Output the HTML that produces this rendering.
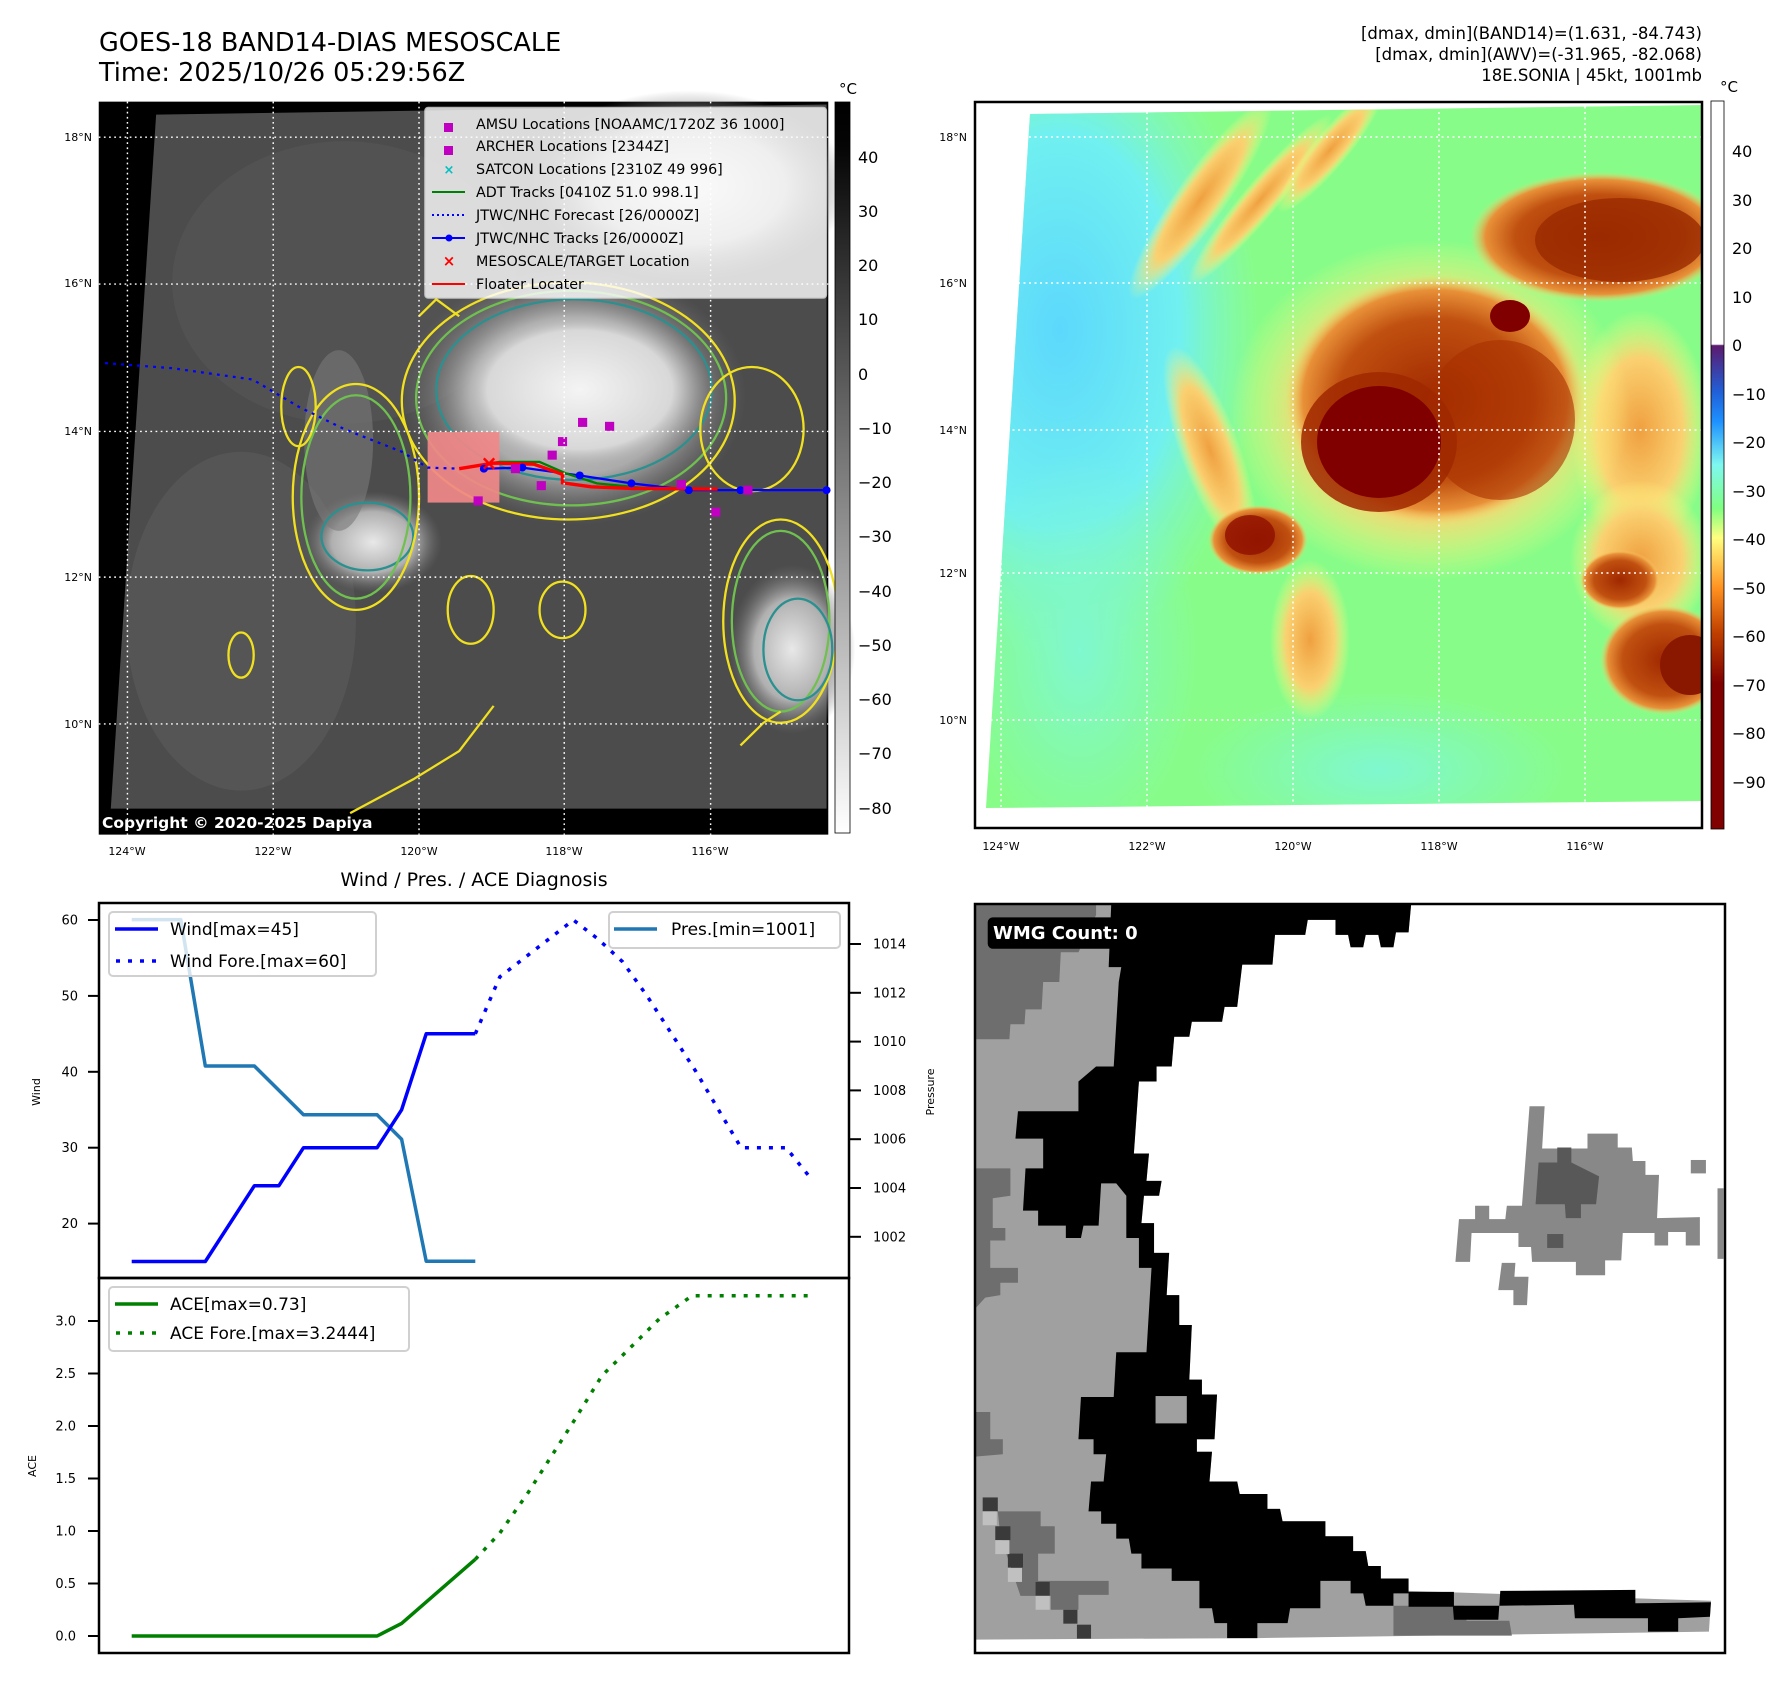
<!DOCTYPE html>
<html><head><meta charset="utf-8">
<style>
html,body{margin:0;padding:0;background:#fff;}
svg{display:block;font-family:"DejaVu Sans","Liberation Sans",sans-serif;}
</style></head>
<body>
<svg id="root" width="1792" height="1690" viewBox="0 0 1792 1690" xmlns="http://www.w3.org/2000/svg">
<defs>
  <linearGradient id="grayBar" x1="0" y1="0" x2="0" y2="1">
    <stop offset="0" stop-color="#000"/><stop offset="0.06" stop-color="#050505"/><stop offset="1" stop-color="#fff"/>
  </linearGradient>
  <linearGradient id="colBar" x1="0" y1="0" x2="0" y2="1">
    <stop offset="0" stop-color="#fff"/><stop offset="0.334" stop-color="#fff"/>
    <stop offset="0.336" stop-color="#5c1a6e"/><stop offset="0.4" stop-color="#2060d8"/>
    <stop offset="0.44" stop-color="#1e90ff"/><stop offset="0.5" stop-color="#7ff8f0"/>
    <stop offset="0.56" stop-color="#80ff80"/><stop offset="0.6" stop-color="#ffff80"/>
    <stop offset="0.67" stop-color="#ff9020"/><stop offset="0.73" stop-color="#c04000"/>
    <stop offset="0.8" stop-color="#800000"/><stop offset="1" stop-color="#800000"/>
  </linearGradient>
  <radialGradient id="cloudG" cx="0.5" cy="0.5" r="0.5">
    <stop offset="0" stop-color="#f4f4f4"/><stop offset="0.7" stop-color="#d8d8d8"/><stop offset="1" stop-color="#8a8a8a" stop-opacity="0"/>
  </radialGradient>
  <radialGradient id="cloudG2" cx="0.5" cy="0.5" r="0.5">
    <stop offset="0" stop-color="#e8e8e8"/><stop offset="0.6" stop-color="#b0b0b0"/><stop offset="1" stop-color="#707070" stop-opacity="0"/>
  </radialGradient>
  <radialGradient id="brownG" cx="0.5" cy="0.5" r="0.5">
    <stop offset="0" stop-color="#a02800"/><stop offset="0.65" stop-color="#c05010"/><stop offset="0.88" stop-color="#e89038"/><stop offset="1" stop-color="#f8d870" stop-opacity="0"/>
  </radialGradient>
  <radialGradient id="orangeG" cx="0.5" cy="0.5" r="0.5">
    <stop offset="0" stop-color="#f0a040"/><stop offset="0.6" stop-color="#fad070"/><stop offset="1" stop-color="#ffff80" stop-opacity="0"/>
  </radialGradient>
  <radialGradient id="cyanG" cx="0.5" cy="0.5" r="0.5">
    <stop offset="0" stop-color="#5cd8fc"/><stop offset="0.6" stop-color="#70f0f0"/><stop offset="1" stop-color="#80f8d0" stop-opacity="0"/>
  </radialGradient>
  <radialGradient id="aquaG" cx="0.5" cy="0.5" r="0.5">
    <stop offset="0" stop-color="#80f8d0"/><stop offset="1" stop-color="#80f8d0" stop-opacity="0"/>
  </radialGradient>
</defs>

<!-- ================= TOP LEFT MAP ================= -->
<g>
  <text x="99" y="51" font-size="25.5" fill="#000">GOES-18 BAND14-DIAS MESOSCALE</text>
  <text x="99" y="81" font-size="25.5" fill="#000">Time: 2025/10/26 05:29:56Z</text>
  <g transform="scale(0.574,0.5647)">
    <rect x="172" y="180" width="1271" height="1298" fill="#000"/>
    <polygon points="272,203 1440,185 1440,1432 193,1432" fill="#4c4c4c"/>
    <ellipse cx="600" cy="500" rx="300" ry="250" fill="#555" opacity="0.7"/>
    <ellipse cx="420" cy="1100" rx="200" ry="300" fill="#5a5a5a" opacity="0.7"/>
    <ellipse cx="1200" cy="330" rx="280" ry="170" fill="url(#cloudG2)"/>
    <ellipse cx="1000" cy="700" rx="300" ry="230" fill="url(#cloudG2)"/>
    <ellipse cx="1010" cy="690" rx="230" ry="150" fill="url(#cloudG)"/>
    <ellipse cx="1380" cy="1150" rx="110" ry="150" fill="url(#cloudG2)"/>
    <ellipse cx="650" cy="960" rx="120" ry="90" fill="url(#cloudG2)"/>
    <ellipse cx="590" cy="780" rx="60" ry="160" fill="#7a7a7a" opacity="0.6"/>
    <g fill="none" stroke-width="4">
      <ellipse cx="990" cy="710" rx="290" ry="210" stroke="#f0e020"/>
      <ellipse cx="995" cy="705" rx="270" ry="190" stroke="#70c050"/>
      <ellipse cx="1000" cy="690" rx="240" ry="160" stroke="#2a9090"/>
      <ellipse cx="640" cy="950" rx="80" ry="60" stroke="#2a9090"/>
      <ellipse cx="620" cy="880" rx="110" ry="200" stroke="#f0e020"/>
      <ellipse cx="620" cy="880" rx="95" ry="180" stroke="#70c050"/>
      <ellipse cx="1360" cy="1100" rx="100" ry="180" stroke="#f0e020"/>
      <ellipse cx="1360" cy="1100" rx="85" ry="160" stroke="#70c050"/>
      <ellipse cx="1390" cy="1150" rx="60" ry="90" stroke="#2a9090"/>
      <ellipse cx="1310" cy="760" rx="90" ry="110" stroke="#f0e020"/>
      <ellipse cx="520" cy="720" rx="30" ry="70" stroke="#f0e020"/>
      <ellipse cx="420" cy="1160" rx="22" ry="40" stroke="#f0e020"/>
      <ellipse cx="820" cy="1080" rx="40" ry="60" stroke="#f0e020"/>
      <ellipse cx="980" cy="1080" rx="40" ry="50" stroke="#f0e020"/>
      <path d="M610,1440 L720,1380 L800,1330 L860,1250" stroke="#f0e020"/>
      <path d="M1290,1320 L1330,1280 L1360,1260" stroke="#f0e020"/>
      <path d="M730,560 L760,530 L800,560" stroke="#f0e020"/>
    </g>
    <rect x="745" y="765" width="125" height="125" fill="#f08888" opacity="0.92"/>
    <g fill="none" stroke-width="4">
      <polyline points="183,643 300,652 440,672 470,690 520,720 600,760 700,800 745,828 800,830" stroke="#0000ff" stroke-dasharray="5 9"/>
      <polyline points="840,830 910,828 1010,842 1100,856 1200,868 1290,868 1440,868" stroke="#0000ff"/>
      <polyline points="810,828 870,818 940,818 985,838 1040,856 1120,864 1250,866" stroke="#008000"/>
      <polyline points="800,830 860,820 930,822 980,840 980,855 1030,862 1100,865 1250,866" stroke="#ff0000" stroke-width="6"/>
    </g>
    <g fill="#0000ff">
      <circle cx="843" cy="830" r="7"/><circle cx="910" cy="828" r="7"/><circle cx="1010" cy="842" r="7"/>
      <circle cx="1100" cy="856" r="7"/><circle cx="1200" cy="868" r="7"/><circle cx="1290" cy="868" r="7"/><circle cx="1440" cy="868" r="7"/>
    </g>
    <g fill="#c000c0">
      <rect x="1007" y="740" width="16" height="16"/><rect x="1054" y="747" width="16" height="16"/>
      <rect x="972" y="774" width="16" height="16"/><rect x="954" y="798" width="16" height="16"/>
      <rect x="890" y="822" width="16" height="16"/><rect x="935" y="852" width="16" height="16"/>
      <rect x="825" y="879" width="16" height="16"/><rect x="1179" y="850" width="16" height="16"/>
      <rect x="1295" y="860" width="16" height="16"/><rect x="1239" y="899" width="16" height="16"/>
    </g>
    <text x="852" y="832" font-size="36" fill="#ff0000" font-weight="bold" text-anchor="middle">×</text>
    <g stroke="#fff" stroke-width="2.5" stroke-dasharray="3 6">
      <line x1="222" y1="180" x2="222" y2="1478"/><line x1="476" y1="180" x2="476" y2="1478"/>
      <line x1="730" y1="180" x2="730" y2="1478"/><line x1="983" y1="180" x2="983" y2="1478"/>
      <line x1="1238" y1="180" x2="1238" y2="1478"/>
      <line x1="172" y1="243" x2="1443" y2="243"/><line x1="172" y1="503" x2="1443" y2="503"/>
      <line x1="172" y1="764" x2="1443" y2="764"/><line x1="172" y1="1022" x2="1443" y2="1022"/>
      <line x1="172" y1="1282" x2="1443" y2="1282"/>
    </g>
    <rect x="740" y="190" width="700" height="338" rx="6" fill="#fff" opacity="0.8" stroke="#ddd" stroke-width="2"/>
  </g>
  <text x="102" y="828" font-size="15.5" font-weight="bold" fill="#fff">Copyright © 2020-2025 Dapiya</text>
  <g font-size="14.3" fill="#000">
    <rect x="444" y="123" width="9" height="9" fill="#c000c0"/>
    <text x="476" y="129">AMSU Locations [NOAAMC/1720Z 36 1000]</text>
    <rect x="444" y="146" width="9" height="9" fill="#c000c0"/>
    <text x="476" y="151">ARCHER Locations [2344Z]</text>
    <text x="449" y="174" fill="#00c0c0" font-weight="bold" text-anchor="middle" font-size="13">×</text>
    <text x="476" y="174">SATCON Locations [2310Z 49 996]</text>
    <line x1="432" y1="192" x2="465" y2="192" stroke="#008000" stroke-width="2"/>
    <text x="476" y="197">ADT Tracks [0410Z 51.0 998.1]</text>
    <line x1="432" y1="215" x2="465" y2="215" stroke="#0000ff" stroke-width="2" stroke-dasharray="2 3"/>
    <text x="476" y="220">JTWC/NHC Forecast [26/0000Z]</text>
    <line x1="432" y1="238" x2="465" y2="238" stroke="#0000ff" stroke-width="2"/><circle cx="449" cy="238" r="3.5" fill="#0000ff"/>
    <text x="476" y="243">JTWC/NHC Tracks [26/0000Z]</text>
    <text x="449" y="266" fill="#ff0000" font-weight="bold" text-anchor="middle" font-size="15">×</text>
    <text x="476" y="266">MESOSCALE/TARGET Location</text>
    <line x1="432" y1="284" x2="465" y2="284" stroke="#ff0000" stroke-width="2"/>
    <text x="476" y="289">Floater Locater</text>
  </g>
  <g font-size="11" fill="#000">
    <text x="92" y="141" text-anchor="end">18°N</text><text x="92" y="287" text-anchor="end">16°N</text>
    <text x="92" y="435" text-anchor="end">14°N</text><text x="92" y="581" text-anchor="end">12°N</text>
    <text x="92" y="728" text-anchor="end">10°N</text>
    <text x="127" y="855" text-anchor="middle">124°W</text><text x="273" y="855" text-anchor="middle">122°W</text>
    <text x="419" y="855" text-anchor="middle">120°W</text><text x="564" y="855" text-anchor="middle">118°W</text>
    <text x="710" y="855" text-anchor="middle">116°W</text>
  </g>
  <g>
    <rect x="835" y="102" width="15" height="731" fill="url(#grayBar)" stroke="#000" stroke-width="0.8"/>
    <text x="848" y="94" font-size="15" text-anchor="middle">°C</text>
    <g font-size="16" fill="#000">
      <text x="858" y="163">40</text><text x="858" y="217">30</text><text x="858" y="271">20</text>
      <text x="858" y="325">10</text><text x="858" y="380">0</text><text x="858" y="434">−10</text>
      <text x="858" y="488">−20</text><text x="858" y="542">−30</text><text x="858" y="597">−40</text>
      <text x="858" y="651">−50</text><text x="858" y="705">−60</text><text x="858" y="759">−70</text>
      <text x="858" y="814">−80</text>
    </g>
  </g>
</g>

<!-- ================= TOP RIGHT MAP ================= -->
<g>
  <g font-size="16.5" fill="#000" text-anchor="end">
    <text x="1702" y="39">[dmax, dmin](BAND14)=(1.631, -84.743)</text>
    <text x="1702" y="60">[dmax, dmin](AWV)=(-31.965, -82.068)</text>
    <text x="1702" y="81">18E.SONIA | 45kt, 1001mb</text>
  </g>
  <svg x="974" y="101" width="729" height="728" viewBox="974 101 729 728" overflow="hidden">
    <rect x="974" y="101" width="729" height="728" fill="#fff"/>
    <clipPath id="dataClip"><polygon points="1030,114 1704,105 1704,801 986,808"/></clipPath>
    <g clip-path="url(#dataClip)">
      <rect x="974" y="101" width="730" height="710" fill="#88fc88"/>
      <ellipse cx="1060" cy="330" rx="200" ry="330" fill="url(#cyanG)"/>
      <ellipse cx="1080" cy="650" rx="120" ry="200" fill="url(#aquaG)"/>
      <ellipse cx="1380" cy="770" rx="190" ry="80" fill="url(#aquaG)"/>
      <ellipse cx="1200" cy="200" rx="25" ry="120" fill="url(#orangeG)" transform="rotate(35 1200 200)"/>
      <ellipse cx="1260" cy="200" rx="18" ry="110" fill="url(#orangeG)" transform="rotate(40 1260 200)"/>
      <ellipse cx="1330" cy="150" rx="18" ry="80" fill="url(#orangeG)" transform="rotate(40 1330 150)"/>
      <ellipse cx="1210" cy="450" rx="30" ry="110" fill="url(#orangeG)" transform="rotate(-20 1210 450)"/>
      <ellipse cx="1310" cy="640" rx="40" ry="80" fill="url(#orangeG)"/>
      <ellipse cx="1640" cy="430" rx="70" ry="120" fill="url(#orangeG)"/>
      <ellipse cx="1640" cy="560" rx="70" ry="80" fill="url(#orangeG)"/>
      <ellipse cx="1430" cy="410" rx="200" ry="170" fill="url(#orangeG)"/>
      <ellipse cx="1435" cy="400" rx="150" ry="125" fill="url(#brownG)"/>
      <ellipse cx="1600" cy="237" rx="130" ry="65" fill="url(#brownG)"/>
      <ellipse cx="1620" cy="240" rx="85" ry="42" fill="#9a2a00" opacity="0.8"/>
      <ellipse cx="1500" cy="420" rx="75" ry="80" fill="#a83000" opacity="0.6"/>
      <ellipse cx="1379" cy="442" rx="78" ry="70" fill="#a02800" opacity="0.85"/>
      <ellipse cx="1379" cy="442" rx="62" ry="56" fill="#800000"/>
      <ellipse cx="1510" cy="316" rx="20" ry="16" fill="#800000"/>
      <ellipse cx="1258" cy="540" rx="50" ry="35" fill="url(#brownG)"/>
      <ellipse cx="1250" cy="535" rx="25" ry="20" fill="#900f00" opacity="0.8"/>
      <ellipse cx="1665" cy="660" rx="65" ry="55" fill="url(#brownG)"/>
      <ellipse cx="1690" cy="665" rx="30" ry="30" fill="#8a1800"/>
      <ellipse cx="1620" cy="580" rx="40" ry="30" fill="url(#brownG)"/>
    </g>
    <g stroke="#fff" stroke-width="1.5" stroke-dasharray="2 3.5">
      <line x1="1001" y1="101" x2="1001" y2="829"/><line x1="1147" y1="101" x2="1147" y2="829"/>
      <line x1="1293" y1="101" x2="1293" y2="829"/><line x1="1439" y1="101" x2="1439" y2="829"/>
      <line x1="1585" y1="101" x2="1585" y2="829"/>
      <line x1="974" y1="137" x2="1703" y2="137"/><line x1="974" y1="283" x2="1703" y2="283"/>
      <line x1="974" y1="430" x2="1703" y2="430"/><line x1="974" y1="573" x2="1703" y2="573"/>
      <line x1="974" y1="720" x2="1703" y2="720"/>
    </g>
  </svg>
  <rect x="975" y="102" width="727" height="726" fill="none" stroke="#000" stroke-width="2.5"/>
  <g font-size="11" fill="#000">
    <text x="967" y="141" text-anchor="end">18°N</text><text x="967" y="287" text-anchor="end">16°N</text>
    <text x="967" y="434" text-anchor="end">14°N</text><text x="967" y="577" text-anchor="end">12°N</text>
    <text x="967" y="724" text-anchor="end">10°N</text>
    <text x="1001" y="850" text-anchor="middle">124°W</text><text x="1147" y="850" text-anchor="middle">122°W</text>
    <text x="1293" y="850" text-anchor="middle">120°W</text><text x="1439" y="850" text-anchor="middle">118°W</text>
    <text x="1585" y="850" text-anchor="middle">116°W</text>
  </g>
  <g>
    <rect x="1711" y="101" width="13" height="728" fill="url(#colBar)" stroke="#000" stroke-width="0.8"/>
    <text x="1729" y="92" font-size="15" text-anchor="middle">°C</text>
    <g font-size="16" fill="#000">
      <text x="1732" y="157">40</text><text x="1732" y="206">30</text><text x="1732" y="254">20</text>
      <text x="1732" y="303">10</text><text x="1732" y="351">0</text><text x="1732" y="400">−10</text>
      <text x="1732" y="448">−20</text><text x="1732" y="497">−30</text><text x="1732" y="545">−40</text>
      <text x="1732" y="594">−50</text><text x="1732" y="642">−60</text><text x="1732" y="691">−70</text>
      <text x="1732" y="739">−80</text><text x="1732" y="788">−90</text>
    </g>
  </g>
</g>

<!-- ================= BOTTOM RIGHT WMG ================= -->
<g>
  <g transform="translate(960,890.1) scale(0.504,0.497)">
    <rect x="28" y="28" width="1490" height="1507" fill="#fff"/>
    <polygon fill="#a0a0a0" points="30,30 895,30 890,85 865,85 860,115 835,115 830,90 805,90 800,115 775,115 770,90 745,90 745,60 690,60 685,90 625,90 620,150 560,150 550,235 525,235 520,265 460,265 455,295 425,295 420,355 390,355 390,385 355,385 345,530 375,530 370,585 400,585 395,615 365,615 360,670 385,670 385,730 415,730 410,815 435,815 435,875 460,875 455,985 480,985 480,1015 510,1015 505,1105 470,1105 470,1130 500,1130 495,1190 550,1190 555,1215 610,1215 610,1245 635,1245 640,1270 725,1270 725,1300 780,1300 780,1330 805,1330 810,1360 835,1360 835,1385 890,1385 890,1410 1490,1430 1486,1492 590,1505 30,1508"/>
    <polygon fill="#6e6e6e" points="30,30 270,30 270,50 235,125 200,125 197,185 165,185 162,240 130,240 128,270 100,270 98,300 32,300"/>
    <polygon fill="#6e6e6e" points="30,560 100,560 100,615 65,620 65,680 90,680 90,705 60,705 60,760 115,760 115,790 80,790 80,815 50,820 32,840"/>
    <polygon fill="#6e6e6e" points="30,1050 60,1050 60,1105 85,1105 85,1135 30,1140"/>
    <polygon fill="#6e6e6e" points="75,1250 160,1250 160,1280 188,1280 188,1335 155,1335 155,1390 295,1390 295,1418 235,1418 235,1448 180,1448 180,1420 120,1420 100,1360 80,1300"/>
    <polygon fill="#6e6e6e" points="860,1440 1000,1440 1005,1470 1090,1470 1095,1500 860,1500"/>
    <g fill="#3a3a3a"><rect x="45" y="1222" width="30" height="28"/><rect x="70" y="1280" width="30" height="28"/><rect x="95" y="1335" width="30" height="28"/><rect x="150" y="1392" width="28" height="28"/><rect x="205" y="1448" width="28" height="28"/><rect x="232" y="1478" width="28" height="28"/></g>
    <g fill="#c0c0c0"><rect x="45" y="1250" width="28" height="28"/><rect x="70" y="1308" width="28" height="28"/><rect x="95" y="1364" width="28" height="28"/><rect x="150" y="1420" width="28" height="28"/></g>
    <polygon fill="#000" points="300,30 895,30 890,85 865,85 860,115 835,115 830,90 805,90 800,115 775,115 770,90 745,90 745,60 690,60 685,90 625,90 620,150 560,150 550,235 525,235 520,265 460,265 455,295 425,295 420,355 390,355 390,385 355,385 345,530 375,530 370,585 400,585 395,615 365,615 360,670 385,670 385,730 415,730 410,815 435,815 435,875 460,875 455,985 480,985 480,1015 510,1015 505,1105 470,1105 470,1130 500,1130 495,1190 550,1190 555,1215 610,1215 610,1245 635,1245 640,1270 725,1270 725,1300 780,1300 780,1330 805,1330 810,1360 835,1360 835,1385 890,1385 890,1415 860,1415 860,1440 805,1440 800,1415 775,1415 775,1390 715,1390 715,1445 655,1445 650,1475 590,1475 590,1505 530,1505 530,1475 505,1475 500,1445 475,1445 475,1390 420,1390 420,1365 360,1365 360,1335 340,1335 335,1305 310,1305 310,1275 280,1275 280,1250 255,1250 260,1190 285,1190 290,1135 265,1135 265,1105 235,1105 240,1020 305,1020 310,930 370,930 380,760 355,760 355,700 330,700 330,615 310,590 280,590 275,675 245,675 240,700 210,700 210,675 155,675 155,645 125,645 130,560 165,560 165,500 110,500 115,445 235,445 235,385 270,355 305,355 315,185 320,155 295,155"/>
    <rect x="388" y="1018" width="62" height="55" fill="#a0a0a0"/>
    <polygon fill="#000" points="890,1412 980,1412 980,1440 1070,1440 1072,1410 1340,1408 1340,1435 1490,1433 1488,1462 1425,1465 1425,1492 1365,1492 1365,1465 1220,1465 1218,1438 1070,1440 1068,1468 980,1468 978,1442 890,1442"/>
    <polygon fill="#888" points="1130,435 1160,435 1155,520 1245,520 1245,490 1305,490 1305,518 1333,518 1335,545 1360,545 1360,573 1387,573 1383,660 1468,658 1468,715 1440,715 1440,688 1405,688 1405,715 1378,715 1378,690 1315,690 1312,745 1280,745 1280,775 1222,775 1222,748 1135,748 1133,718 1108,718 1108,690 1015,690 1012,748 983,748 990,662 1022,662 1022,635 1050,635 1050,662 1082,662 1085,635 1115,635"/>
    <polygon fill="#888" points="1075,750 1102,750 1100,778 1128,778 1125,835 1098,835 1098,805 1068,805"/>
    <polygon fill="#585858" points="1185,518 1213,518 1213,548 1268,576 1262,632 1232,632 1232,660 1202,660 1200,632 1142,632 1148,548 1185,548"/>
    <rect x="1165" y="692" width="32" height="28" fill="#585858"/>
    <rect x="1450" y="543" width="30" height="27" fill="#888"/>
    <rect x="1503" y="600" width="12" height="142" fill="#888"/>
    <rect x="55" y="55" width="355" height="63" rx="10" fill="#000"/>
  </g>
  <text x="993" y="939" font-size="18" font-weight="bold" fill="#fff">WMG Count: 0</text>
  <rect x="975" y="904" width="750" height="749" fill="none" stroke="#000" stroke-width="2.5"/>
</g>

<!-- ================= BOTTOM LEFT CHART ================= -->
<g id="diag">
  <text x="474" y="886" font-size="19" text-anchor="middle">Wind / Pres. / ACE Diagnosis</text>
  <g id="plotLayer"></g>
  <rect x="99" y="903" width="750" height="375" fill="none" stroke="#000" stroke-width="2.5"/>
  <rect x="99" y="1278" width="750" height="375" fill="none" stroke="#000" stroke-width="2.5"/>
  <text transform="translate(40,1092) rotate(-90)" font-size="11" text-anchor="middle">Wind</text>
  <text transform="translate(934,1092) rotate(-90)" font-size="11" text-anchor="middle">Pressure</text>
  <text transform="translate(36,1466) rotate(-90)" font-size="11" text-anchor="middle">ACE</text>
  <g>
    <rect x="109" y="912" width="267" height="64" rx="4" fill="#fff" fill-opacity="0.8" stroke="#d0d0d0" stroke-width="2"/>
    <line x1="115" y1="929" x2="158" y2="929" stroke="#0000ff" stroke-width="3.5"/>
    <text x="170" y="935" font-size="17">Wind[max=45]</text>
    <line x1="116" y1="961" x2="158" y2="961" stroke="#0000ff" stroke-width="3.5" stroke-dasharray="4 8"/>
    <text x="170" y="967" font-size="17">Wind Fore.[max=60]</text>
  </g>
  <g>
    <rect x="609" y="912" width="231" height="36" rx="4" fill="#fff" fill-opacity="0.8" stroke="#d0d0d0" stroke-width="2"/>
    <line x1="614" y1="929" x2="657" y2="929" stroke="#1f77b4" stroke-width="3.5"/>
    <text x="671" y="935" font-size="17">Pres.[min=1001]</text>
  </g>
  <g>
    <rect x="109" y="1287" width="300" height="64" rx="4" fill="#fff" fill-opacity="0.8" stroke="#d0d0d0" stroke-width="2"/>
    <line x1="115" y1="1304" x2="158" y2="1304" stroke="#008000" stroke-width="3.5"/>
    <text x="170" y="1310" font-size="17">ACE[max=0.73]</text>
    <line x1="116" y1="1333" x2="158" y2="1333" stroke="#008000" stroke-width="3.5" stroke-dasharray="4 8"/>
    <text x="170" y="1339" font-size="17">ACE Fore.[max=3.2444]</text>
  </g>
</g>
</svg>

<script>
// ---- chart data ----
const windObsHours = [0, 18, 30, 36, 42, 60, 66, 72, 84];
const windObs = [15, 15, 25, 25, 30, 30, 35, 45, 45];
const presObsHours = [0, 12, 18, 30, 42, 60, 66, 72, 84];
const presObs = [1015, 1015, 1009, 1009, 1007, 1007, 1006, 1001, 1001];
const windFcHours = [84, 90, 96, 102, 108, 114, 120, 126, 132, 138, 144, 149, 160, 166];
const windFc = [45, 52.5, 55, 57.5, 60, 57.5, 54.5, 50, 45, 40, 34.5, 30, 30, 26];
const aceObsHours = [0, 60, 66, 84];
const aceObs = [0, 0, 0.12, 0.73];
const aceFcHours = [84, 90, 97, 108, 115, 122, 129, 137, 166];
const aceFc = [0.73, 0.98, 1.37, 2.04, 2.48, 2.75, 3.02, 3.24, 3.24];
const windTicks = [20, 30, 40, 50, 60];
const presTicks = [1002, 1004, 1006, 1008, 1010, 1012, 1014];
const aceTicks = [0, 0.5, 1.0, 1.5, 2.0, 2.5, 3.0];

const xS = h => 131.7 + h * 4.09;
const yWind = w => 920 + (60 - w) * 7.59;
const yPres = p => 944 + (1014 - p) * 24.4;
const yAce = a => 1636 - a * 105;

const NS = "http://www.w3.org/2000/svg";
const layer = document.getElementById("plotLayer");
function mk(tag, attrs) {
  const e = document.createElementNS(NS, tag);
  for (const k in attrs) e.setAttribute(k, attrs[k]);
  layer.appendChild(e);
  return e;
}
function line(xs, ys, fx, fy, color, dash, name) {
  const pts = xs.map((h, i) => fx(h).toFixed(1) + "," + fy(ys[i]).toFixed(1)).join(" ");
  const p = mk("polyline", {points: pts, fill: "none", stroke: color, "stroke-width": 3.5, "stroke-linejoin": "round"});
  if (dash) p.setAttribute("stroke-dasharray", "4 8");
  
  
}
line(presObsHours, presObs, xS, yPres, "#1f77b4", false, "pressure-line");
line(windObsHours, windObs, xS, yWind, "#0000ff", false, "wind-line");
line(windFcHours, windFc, xS, yWind, "#0000ff", true, "wind-forecast-line");
line(aceObsHours, aceObs, xS, yAce, "#008000", false, "ace-line");
line(aceFcHours, aceFc, xS, yAce, "#008000", true, "ace-forecast-line");

function tick(x1, x2, y, label, lx, anchor, name) {
  mk("line", {x1: x1, x2: x2, y1: y, y2: y, stroke: "#000", "stroke-width": 2});
  const t = mk("text", {x: lx, y: y + 4.5, "font-size": 13, "text-anchor": anchor});
  t.textContent = label;
  
  
}
windTicks.forEach(v => tick(88, 99, yWind(v), String(v), 78, "end", "wind-tick-label"));
presTicks.forEach(v => tick(849, 861, yPres(v), String(v), 873, "start", "pressure-tick-label"));
aceTicks.forEach(v => tick(88, 99, yAce(v), v.toFixed(1), 76, "end", "ace-tick-label"));
</script>
</body></html>
